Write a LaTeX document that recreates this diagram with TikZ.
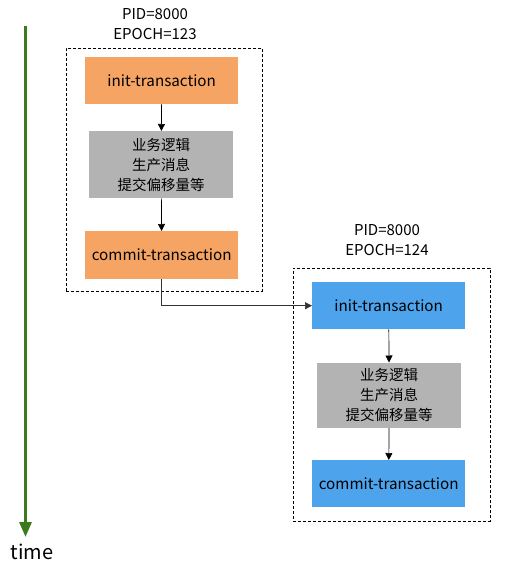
\documentclass[tikz,border=0pt]{standalone}
\usepackage{fontspec}
\setmainfont{Noto Sans CJK SC}
\usetikzlibrary{arrows.meta}
\definecolor{orangebox}{HTML}{F5A463}
\definecolor{bluebox}{HTML}{4DA4EC}
\definecolor{graybox}{HTML}{B3B3B3}
\definecolor{timegreen}{HTML}{3B7B1C}
\begin{document}
\begin{tikzpicture}[x=1pt,y=-1pt,
  box/.style={inner sep=0pt, anchor=north west, font=\fontsize{15.2}{18}\selectfont},
  obox/.style={box, fill=orangebox},
  bbox/.style={box, fill=bluebox},
  gbox/.style={box, fill=graybox, align=center, font=\fontsize{14.5}{20}\selectfont},
  frame/.style={draw, dashed, line width=0.8pt, dash pattern=on 3pt off 2pt},
  conn/.style={draw, line width=0.7pt, -{Triangle[length=7pt,width=7pt]}},
  lbl/.style={align=center, font=\fontsize{15}{20}\selectfont, inner sep=0pt}]
\useasboundingbox (0,0) rectangle (507,568);
% time axis
\coordinate (t0) at (25.5,26);
\coordinate (t1) at (25.5,537);
\draw[timegreen, line width=3pt, -{Triangle[length=15pt,width=12pt]}] (t0) -- (t1);
\node[font=\fontsize{20}{22}\selectfont, inner sep=0pt] (time) at (32,552) {time};
% left group
\node[frame, minimum width=196pt, minimum height=243pt, anchor=north west, inner sep=0pt] (f1) at (66,48) {};
\node[lbl] (l1) at (155,24) {PID=8000\\EPOCH=123};
\node[obox, minimum width=153pt, minimum height=47pt] (a1) at (85,57) {init-transaction};
\node[gbox, minimum width=144pt, minimum height=67pt] (b1) at (89,131) {业务逻辑\\生产消息\\提交偏移量等};
\node[obox, minimum width=153pt, minimum height=48pt] (c1) at (85,231) {commit-transaction};
\draw[conn] (a1) -- (b1);
\draw[conn] (b1) -- (c1);
% right group
\node[frame, minimum width=197pt, minimum height=253pt, anchor=north west, inner sep=0pt] (f2) at (292.5,268) {};
\node[lbl] (l2) at (387,240) {PID=8000\\EPOCH=124};
\node[bbox, minimum width=153pt, minimum height=47pt] (a2) at (312,282) {init-transaction};
\node[gbox, minimum width=144pt, minimum height=65pt] (b2) at (317,362.5) {业务逻辑\\生产消息\\提交偏移量等};
\node[bbox, minimum width=153pt, minimum height=47pt] (c2) at (312,460) {commit-transaction};
\draw[conn] (a2) -- (b2);
\draw[conn] (b2) -- (c2);
% link
\draw[conn, draw=black!80] (c1.south) |- (a2.west);
\end{tikzpicture}
\end{document}
